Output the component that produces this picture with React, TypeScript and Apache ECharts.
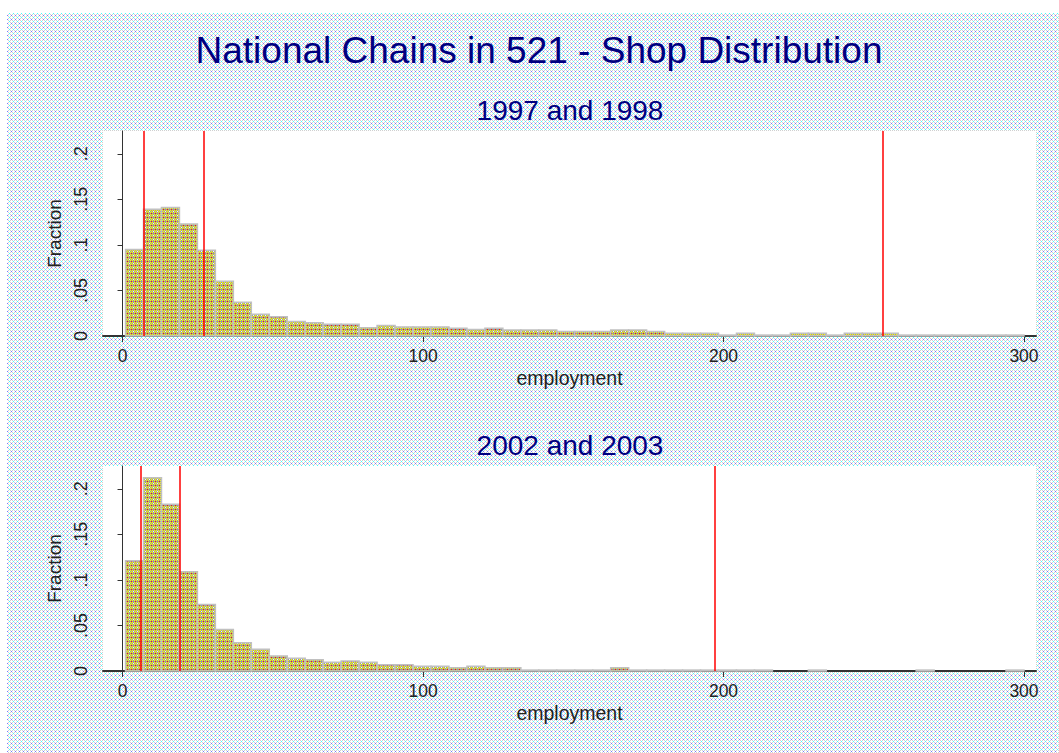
import React, { useEffect, useRef } from 'react';
import * as echarts from 'echarts';

const mainTitle = 'National Chains in 521 - Shop Distribution';
const panelTitles = ['1997 and 1998', '2002 and 2003'];
const xName = 'employment';
const yName = 'Fraction';

// histogram bins: 50 bins from 1 to 300
const binStart = 1;
const binWidth = 5.98;

const fraction9798 = [
  0.095, 0.139, 0.141, 0.123, 0.094, 0.060, 0.037, 0.024, 0.021, 0.016,
  0.0145, 0.013, 0.013, 0.009, 0.0115, 0.010, 0.010, 0.010, 0.0085, 0.007,
  0.0085, 0.0066, 0.0066, 0.0066, 0.005, 0.005, 0.005, 0.0066, 0.0066, 0.005,
  0.003, 0.003, 0.003, 0.001, 0.003, 0.001, 0.001, 0.003, 0.003, 0.001,
  0.003, 0.003, 0.003, 0.001, 0.001, 0.001, 0.001, 0.001, 0.001, 0.001,
];

const fraction0203 = [
  0.121, 0.212, 0.183, 0.109, 0.073, 0.0455, 0.031, 0.024, 0.0165, 0.014,
  0.0124, 0.0095, 0.011, 0.0095, 0.0068, 0.0068, 0.0053, 0.0053, 0.0035, 0.0053,
  0.0035, 0.0035, 0.001, 0.001, 0.001, 0.001, 0.001, 0.0035, 0.001, 0.001,
  0.001, 0.001, 0.001, 0.001, 0.001, 0.001, 0, 0, 0.001, 0,
  0, 0, 0, 0, 0.001, 0, 0, 0, 0, 0.001,
];

const markers9798 = [7, 27, 253];
const markers0203 = [6, 19, 197];

const xTicks = [0, 100, 200, 300];
const yTicks = [0, 0.05, 0.1, 0.15, 0.2];

function makeTile(cells: string[][]): HTMLCanvasElement {
  const c = document.createElement('canvas');
  c.width = cells[0].length;
  c.height = cells.length;
  const ctx = c.getContext('2d')!;
  cells.forEach((row, y) =>
    row.forEach((col, x) => {
      ctx.fillStyle = col;
      ctx.fillRect(x, y, 1, 1);
    })
  );
  return c;
}

export default function App() {
  const ref = useRef<HTMLDivElement>(null);

  useEffect(() => {
    if (!ref.current) return;
    const chart = echarts.init(ref.current, undefined, { renderer: 'svg' });

    const W = '#ffffff', G = '#d0d0d0', C = '#40ffff', B = '#7878ff';
    const bgTile = makeTile([
      [G, W, G, W],
      [W, C, W, W],
      [G, W, G, W],
      [W, W, W, B],
    ]);
    const Y = '#ffff00', K = '#999999', R = '#ff2000';
    const barTile = makeTile([
      [Y, K, Y, K],
      [K, K, K, R],
      [Y, K, Y, K],
      [K, W, K, Y],
    ]);
    const bgPattern: any = { image: bgTile, repeat: 'repeat' };
    const barPattern: any = { image: barTile, repeat: 'repeat' };

    const font = "'Liberation Sans', Arial, sans-serif";
    const textColor = '#222222';
    const gridTops = [131, 466];

    const panels = [
      { values: fraction9798, markers: markers9798 },
      { values: fraction0203, markers: markers0203 },
    ];

    const grids = gridTops.map((top) => ({
      left: 103,
      width: 933,
      top,
      height: 205,
      show: true,
      backgroundColor: '#ffffff',
      borderWidth: 0,
    }));

    const xAxes = gridTops.map((_, i) => ({
      type: 'value',
      gridIndex: i,
      min: -6.5,
      max: 304,
      name: xName,
      nameLocation: 'middle',
      nameGap: 32,
      nameTextStyle: { fontSize: 19.5, color: textColor, fontFamily: font },
      axisLine: { show: true, onZero: false, lineStyle: { color: '#333333', width: 2 } },
      axisTick: { show: true, length: 6, customValues: xTicks, lineStyle: { color: '#333333' } },
      axisLabel: { customValues: xTicks, margin: 11, fontSize: 17.5, color: textColor, fontFamily: font },
      splitLine: { show: false },
    }));

    const yAxes = gridTops.map((_, i) => ({
      type: 'value',
      gridIndex: i,
      min: 0,
      max: 0.225,
      name: yName,
      nameLocation: 'middle',
      nameRotate: 90,
      nameGap: 37,
      nameTextStyle: { fontSize: 19, color: textColor, fontFamily: font },
      axisLine: { show: true, lineStyle: { color: '#333333', width: 1 } },
      axisTick: { show: true, length: 5, customValues: yTicks, lineStyle: { color: '#333333' } },
      axisLabel: {
        customValues: yTicks,
        rotate: 90,
        margin: 13,
        fontSize: 18,
        color: textColor,
        fontFamily: font,
        formatter: (v: number) => (v === 0 ? '0' : String(v).replace(/^0/, '')),
      },
      splitLine: { show: false },
    }));

    const series: any[] = [];
    panels.forEach((p, i) => {
      series.push({
        type: 'line',
        xAxisIndex: i,
        yAxisIndex: i,
        data: [],
        z: 1,
        silent: true,
        markLine: {
          silent: true,
          symbol: ['none', 'none'],
          label: { show: false },
          lineStyle: { color: '#ff0000', width: 1.5, type: 'solid' },
          data: p.markers.map((m) => ({ xAxis: m })),
        },
      });
      series.push({
        type: 'custom',
        xAxisIndex: i,
        yAxisIndex: i,
        z: 3,
        encode: { x: [0, 1], y: 2 },
        data: p.values.map((v, k) => [binStart + k * binWidth, binStart + (k + 1) * binWidth, v]),
        renderItem: (params: any, api: any) => {
          const v = api.value(2);
          if (!v) return null;
          const p0 = api.coord([api.value(0), v]);
          const p1 = api.coord([api.value(1), 0]);
          return {
            type: 'rect',
            shape: { x: p0[0], y: p0[1], width: p1[0] - p0[0], height: p1[1] - p0[1] },
            style: { fill: barPattern, stroke: '#c0c0c0', lineWidth: 1.5 },
          };
        },
      });
    });

    chart.setOption({
      animation: false,
      backgroundColor: '#ffffff',
      title: [
        {
          text: mainTitle,
          left: 534,
          top: 45,
          textAlign: 'center',
          textVerticalAlign: 'middle',
          textStyle: { fontSize: 37, fontWeight: 'normal', color: '#000080', fontFamily: font },
        },
        {
          text: panelTitles[0],
          left: 565,
          top: 105,
          textAlign: 'center',
          textVerticalAlign: 'middle',
          textStyle: { fontSize: 28, fontWeight: 'normal', color: '#000080', fontFamily: font },
        },
        {
          text: panelTitles[1],
          left: 565,
          top: 440,
          textAlign: 'center',
          textVerticalAlign: 'middle',
          textStyle: { fontSize: 28, fontWeight: 'normal', color: '#000080', fontFamily: font },
        },
      ],
      graphic: [
        {
          type: 'rect',
          z: -100,
          silent: true,
          shape: { x: 7, y: 13, width: 1052, height: 740 },
          style: { fill: bgPattern },
        },
      ],
      grid: grids,
      xAxis: xAxes,
      yAxis: yAxes,
      series,
    });

    return () => chart.dispose();
  }, []);

  return (
    <div
      ref={ref}
      style={{ position: 'absolute', left: 0, top: 0, width: 1059, height: 753 }}
    />
  );
}
